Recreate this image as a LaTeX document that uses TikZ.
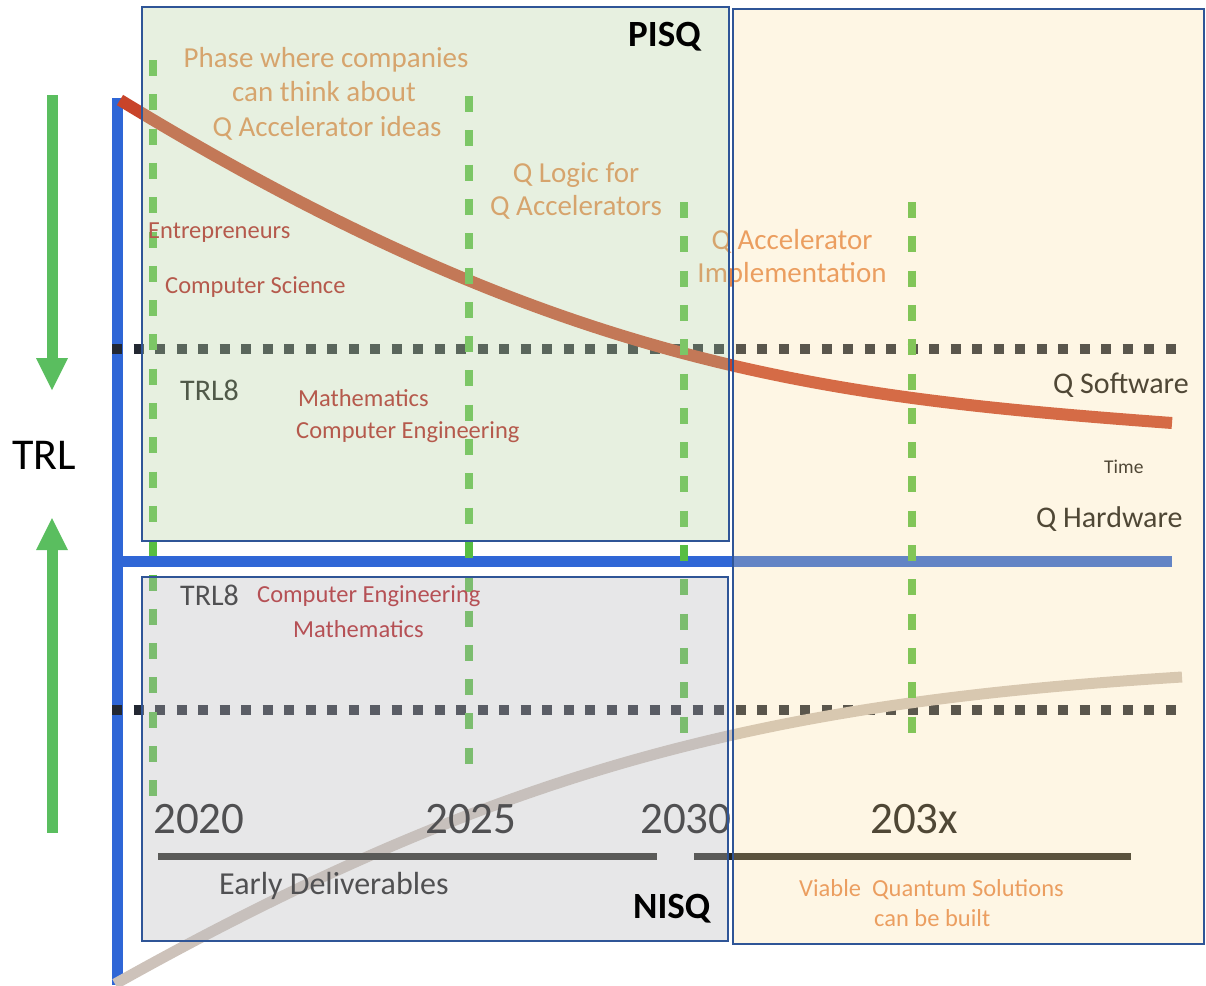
\documentclass[tikz,border=0pt]{standalone}
\usepackage{fontspec}
\setmainfont{Carlito}
\definecolor{axisblue}{RGB}{47,102,214}
\definecolor{arrowgreen}{RGB}{90,190,95}
\definecolor{dashgreen}{RGB}{88,190,66}
\definecolor{dotdark}{RGB}{35,40,50}
\definecolor{swred}{RGB}{200,68,42}
\definecolor{hwbeige}{RGB}{205,194,186}
\definecolor{labred}{RGB}{178,20,25}
\definecolor{phaseorange}{RGB}{230,137,77}
\definecolor{textdark}{RGB}{20,20,20}
\definecolor{timeline}{RGB}{35,35,30}
\definecolor{boxedge}{RGB}{47,85,151}
\definecolor{pisqfill}{RGB}{188,214,168}
\definecolor{nisqfill}{RGB}{189,189,192}
\definecolor{futurefill}{RGB}{251,220,151}
\begin{document}
\begin{tikzpicture}[x=1pt,y=-1pt,
  axisline/.style={draw=axisblue,line width=11pt},
  dotline/.style={draw=dotdark,line width=10pt,dash pattern=on 10pt off 11.5pt},
  gdash/.style={draw=dashgreen,line width=8pt,dash pattern=on 16pt off 18.3pt},
  curvesw/.style={draw=swred,line width=12pt},
  curvehw/.style={draw=hwbeige,line width=11pt},
  tline/.style={draw=timeline,line width=7pt},
  zone/.style={draw=boxedge,line width=2pt,fill opacity=0.36,inner sep=0pt,outer sep=0pt,anchor=north west},
  phase/.style={text=phaseorange,font=\fontsize{29}{34}\selectfont,inner sep=0pt,anchor=base},
  field/.style={text=labred,font=\fontsize{24.5}{29}\selectfont,inner sep=0pt,anchor=base west},
  trlval/.style={text=textdark,font=\fontsize{30}{36}\selectfont,inner sep=0pt,anchor=base west},
  year/.style={text=textdark,font=\fontsize{45}{54}\selectfont,inner sep=0pt,anchor=base west},
  tech/.style={text=textdark,font=\fontsize{30}{36}\selectfont,inner sep=0pt,anchor=base west},
  era/.style={text=black,font=\fontsize{37}{44}\selectfont\bfseries,inner sep=0pt,anchor=base west},
  arrowfill/.style={fill=arrowgreen,draw=none}
]
\useasboundingbox (0,0) rectangle (1206,985);

% axes
\draw[axisline] (117.5,98) -- (117.5,985);
\draw[axisline] (112,561.5) -- (1172,561.5);

% dotted TRL8 lines
\draw[dotline] (112,349) -- (1176,349);
\draw[dotline] (112,710) -- (1176,710);

% curves
\draw[curvesw] (120,100) .. controls (560,368) and (822,397) .. (1172,423);
\draw[curvehw] (115,984) .. controls (515,760) and (782,702) .. (1182,677);

% green dashed year lines
\draw[gdash] (153,60) -- (153,797);
\draw[gdash] (469,96) -- (469,765);
\draw[gdash] (684,202) -- (684,734);
\draw[gdash] (912,202) -- (912,734);

% timeline bars
\draw[tline] (158,856.5) -- (657,856.5);
\draw[tline] (694,856.5) -- (1131,856.5);

% phase texts
\node[phase] (ph1) at (326,67) {Phase where companies};
\node[phase] (ph2) at (324,101) {can think about};
\node[phase] (ph3) at (327,136) {Q Accelerator ideas};
\node[phase] (ql1) at (576,182) {Q Logic for};
\node[phase] (ql2) at (576,215) {Q Accelerators};
\node[phase] (qa1) at (792,249) {Q Accelerator};
\node[phase] (qa2) at (792,282) {Implementation};

% fields
\node[field] (entre) at (148,238) {Entrepreneurs};
\node[field] (cs) at (165,293) {Computer Science};
\node[field] (mathup) at (298,406) {Mathematics};
\node[field] (ceup) at (296,438) {Computer Engineering};
\node[field] (celow) at (257,602) {Computer Engineering};
\node[field] (mathlow) at (293,637) {Mathematics};

% TRL8 labels
\node[trlval] (trlup) at (180,400) {TRL8};
\node[trlval] (trllow) at (180,605) {TRL8};

% right labels
\node[tech] (qsw) at (1053,393) {Q Software};
\node[text=textdark,font=\fontsize{19.5}{23}\selectfont,inner sep=0pt,anchor=base west] (time) at (1104,473) {Time};
\node[tech] (qhw) at (1036,527) {Q Hardware};

% years
\node[year] (y2020) at (153,833) {2020};
\node[year] (y2025) at (425,833) {2025};
\node[year] (y2030) at (640,833) {2030};
\node[year] (y203x) at (870,833) {203x};

\node[text=textdark,font=\fontsize{32}{38}\selectfont,inner sep=0pt,anchor=base west] (early) at (219,894) {Early Deliverables};
\node[text=phaseorange,font=\fontsize{24.5}{29}\selectfont,inner sep=0pt,anchor=base west] (viable) at (799,896) {Viable~ Quantum Solutions};
\node[text=phaseorange,font=\fontsize{24.5}{29}\selectfont,inner sep=0pt,anchor=base west] (built) at (874,926) {can be built};

% translucent zones
\node[zone,fill=pisqfill,minimum width=587pt,minimum height=534pt] (pisqbox) at (142,7) {};
\node[zone,fill=nisqfill,minimum width=586pt,minimum height=364pt] (nisqbox) at (142,577) {};
\node[zone,fill=futurefill,fill opacity=0.26,minimum width=471pt,minimum height=935pt] (futurebox) at (733,9) {};

\node[era] (pisq) at (628,46) {PISQ};
\node[era] (nisq) at (633,918) {NISQ};

% TRL arrows
\fill[arrowfill] (46.5,95) rectangle (57.5,358);
\fill[arrowfill] (36,358) -- (68,358) -- (52,390) -- cycle;
\fill[arrowfill] (46.5,550) rectangle (57.5,833);
\fill[arrowfill] (36,550) -- (68,550) -- (52,518) -- cycle;
\node[text=black,font=\fontsize{44}{52}\selectfont,inner sep=0pt,anchor=base west] (trl) at (12,469) {TRL};
\end{tikzpicture}
\end{document}
